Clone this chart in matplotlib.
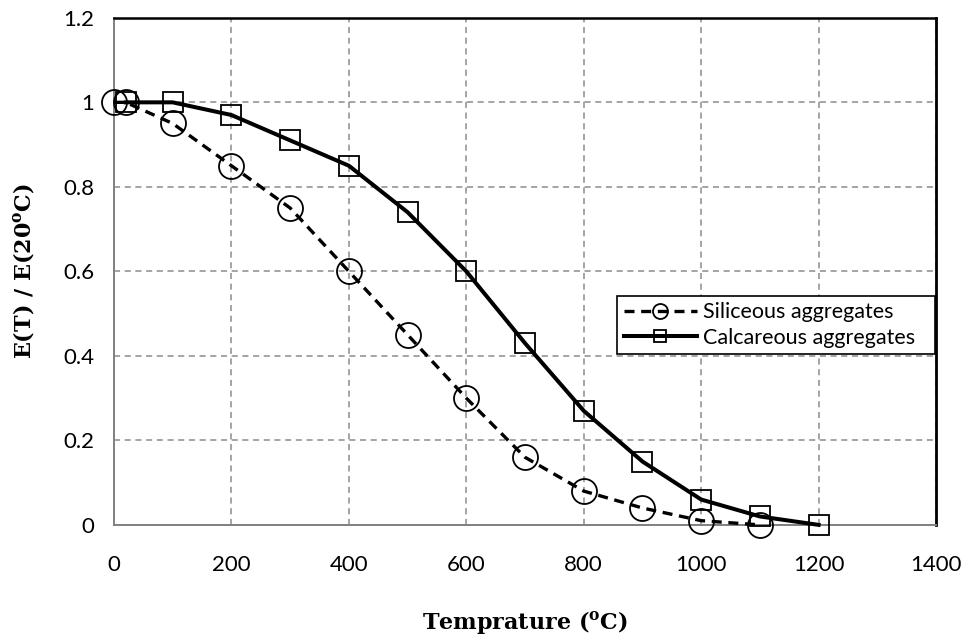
import matplotlib
matplotlib.use('Agg')
import matplotlib.pyplot as plt

# data
sil_temp = [0, 20, 100, 200, 300, 400, 500, 600, 700, 800, 900, 1000, 1100]
sil_ratio = [1.0, 1.0, 0.95, 0.85, 0.75, 0.60, 0.45, 0.30, 0.16, 0.08, 0.04, 0.01, 0.0]
cal_temp = [20, 100, 200, 300, 400, 500, 600, 700, 800, 900, 1000, 1100, 1200]
cal_ratio = [1.0, 1.0, 0.97, 0.91, 0.85, 0.74, 0.60, 0.43, 0.27, 0.15, 0.06, 0.02, 0.0]

xticks = [0, 200, 400, 600, 800, 1000, 1200, 1400]
yticks = [0, 0.2, 0.4, 0.6, 0.8, 1.0, 1.2]
ytick_labels = ['0', '0.2', '0.4', '0.6', '0.8', '1', '1.2']

tick_font = 'Lato'
label_font = 'DejaVu Serif'

fig = plt.figure(figsize=(9.66, 6.37), dpi=100)
ax = fig.add_axes([0.118, 0.176, 0.851, 0.796])

ax.plot(sil_temp, sil_ratio, color='black', linestyle=(0, (3, 2)), linewidth=2.4,
        marker='o', markersize=18, fillstyle='none', markeredgewidth=1.3,
        label='Siliceous aggregates', zorder=3, clip_on=False)
ax.plot(cal_temp, cal_ratio, color='black', linestyle='-', linewidth=2.9,
        marker='s', markersize=15, fillstyle='none', markeredgewidth=1.3,
        label='Calcareous aggregates', zorder=3, clip_on=False)

ax.set_xlim(0, 1400)
ax.set_ylim(0, 1.2)
ax.set_xticks(xticks)
ax.set_yticks(yticks)
ax.set_yticklabels(ytick_labels)
ax.tick_params(length=0, labelsize=16)
ax.tick_params(axis='x', pad=22)
ax.tick_params(axis='y', pad=14)
for lab in ax.get_xticklabels() + ax.get_yticklabels():
    lab.set_family(tick_font)

ax.grid(True, color='#8c8c8c', linestyle=(0, (4, 3)), linewidth=1.1)
ax.set_axisbelow(True)

ax.spines['left'].set_color('#808080')
ax.spines['bottom'].set_color('#808080')
ax.spines['left'].set_linewidth(1.4)
ax.spines['bottom'].set_linewidth(1.4)
ax.spines['top'].set_color('black')
ax.spines['right'].set_color('black')
ax.spines['top'].set_linewidth(1.8)
ax.spines['right'].set_linewidth(2.0)

ax.set_xlabel(r'Temprature ($^{\mathregular{o}}$C)', family=label_font,
              fontweight='bold', fontsize=16, labelpad=24)
ax.set_ylabel(r'E(T) / E(20$^{\mathregular{o}}$C)', family=label_font,
              fontweight='bold', fontsize=16, labelpad=20)

leg = ax.legend(loc='lower left', bbox_to_anchor=(0.612, 0.337, 0.387, 0.113),
                mode='expand', borderaxespad=0,
                markerscale=0.6, handlelength=3.4, handletextpad=0.3,
                fancybox=False, framealpha=1, edgecolor='black',
                prop={'family': tick_font, 'size': 15.5}, labelspacing=0.25,
                borderpad=0.3)
leg.get_frame().set_linewidth(1.2)

plt.savefig('out.png', dpi=100)
